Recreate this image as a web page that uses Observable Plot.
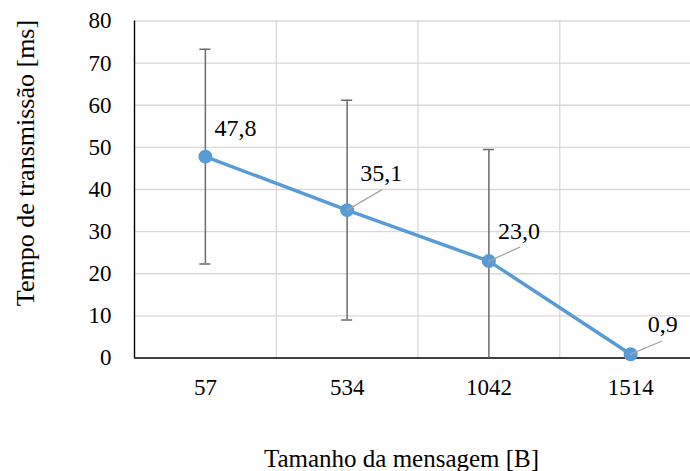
<!DOCTYPE html>
<html>
<head>
<meta charset="utf-8">
<script src="https://cdn.jsdelivr.net/npm/d3@7"></script>
<script src="https://cdn.jsdelivr.net/npm/@observablehq/plot@0.6"></script>
<style>
  html, body { margin: 0; padding: 0; background: #ffffff; }
</style>
</head>
<body>
<div id="chart"></div>
<script>
// ---- data ----
const sizes = ["57", "534", "1042", "1514"];
const times = [47.8, 35.1, 23.0, 0.9];
const errors = [25.5, 26.1, 26.5, 0];
const valueLabels = ["47,8", "35,1", "23,0", "0,9"];
const yTicks = [0, 10, 20, 30, 40, 50, 60, 70, 80];
const xTitle = "Tamanho da mensagem [B]";
const yTitle = "Tempo de transmissão [ms]";

// ---- styling (label offsets in px, leader lines) ----
const labelDx = [30, 34, 30, 32];
const labelDy = [-28, -37, -30, -30];
const leaderLen = [0, 40, 34, 33.5];
const leaderAngle = [0, 59.5, 65.8, 67.2];

const rows = sizes.map((s, i) => ({i, s, t: times[i], e: errors[i], lab: valueLabels[i]}));
const capHalf = 0.039;
const font = "'Liberation Serif', 'Times New Roman', serif";
const lineShape = {draw(context, l) { context.moveTo(0, 0); context.lineTo(0, -l); }};

const marks = [
  // horizontal gridlines
  Plot.ruleY(yTicks.filter(v => v > 0), {stroke: "#d9d9d9", strokeWidth: 1.3}),
  // vertical gridlines between categories
  Plot.ruleX(sizes.map((s, i) => i + 0.5), {y1: 0, y2: 80, stroke: "#d9d9d9", strokeWidth: 1.3}),
  // axes lines
  Plot.ruleX([-0.5], {y1: 0, y2: 80, stroke: "#000", strokeWidth: 1.4}),
  Plot.ruleY([0], {stroke: "#000", strokeWidth: 1.4}),
  Plot.axisX({ticks: sizes.map((s, i) => i), tickFormat: i => sizes[i], tickSize: 0, tickPadding: 21, label: null, fontSize: 23}),
  Plot.axisY({ticks: yTicks, tickSize: 0, tickPadding: 23, label: null, fontSize: 23}),
  // error bars
  Plot.ruleX(rows.filter(d => d.e > 0), {x: "i", y1: d => d.t - d.e, y2: d => d.t + d.e, stroke: "#6b6b6b", strokeWidth: 1.5, clip: true}),
  Plot.ruleY(rows.filter(d => d.e > 0), {y: d => d.t + d.e, x1: d => d.i - capHalf, x2: d => d.i + capHalf, stroke: "#6b6b6b", strokeWidth: 1.5, clip: true}),
  Plot.ruleY(rows.filter(d => d.e > 0), {y: d => d.t - d.e, x1: d => d.i - capHalf, x2: d => d.i + capHalf, stroke: "#6b6b6b", strokeWidth: 1.5, clip: true}),
  // series
  Plot.line(rows, {x: "i", y: "t", stroke: "#5b9bd5", strokeWidth: 3.5}),
  Plot.dot(rows, {x: "i", y: "t", r: 7, fill: "#5b9bd5", stroke: "none"}),
  // leader lines
  ...rows.filter((d, k) => leaderLen[k] > 0).map(d =>
    Plot.vector([d], {x: "i", y: "t", length: leaderLen[d.i], rotate: leaderAngle[d.i], anchor: "start", shape: lineShape, stroke: "#a6a6a6", strokeWidth: 1.3, fill: "none"})
  ),
  // value labels
  ...rows.map((d, k) =>
    Plot.text([d], {x: "i", y: "t", text: "lab", dx: labelDx[k], dy: labelDy[k], fontSize: 24, fill: "#000"})
  ),
  // axis titles
  Plot.text([xTitle], {frameAnchor: "bottom", textAnchor: "middle", lineAnchor: "middle", dx: -16.5, dy: 100.5, fontSize: 25, fill: "#000"}),
  Plot.text([yTitle], {frameAnchor: "left", textAnchor: "middle", lineAnchor: "middle", rotate: -90, dx: -109, dy: -26.5, fontSize: 26, fill: "#000"})
];

const chart = Plot.plot({
  width: 690,
  height: 471,
  marginLeft: 134,
  marginRight: -11,
  marginTop: 20.5,
  marginBottom: 113.5,
  style: {fontFamily: font, fontSize: "23px", background: "#ffffff", color: "#000", overflow: "hidden"},
  x: {type: "linear", domain: [-0.5, 3.5]},
  y: {domain: [0, 80]},
  marks
});
document.getElementById("chart").appendChild(chart);
</script>
</body>
</html>
